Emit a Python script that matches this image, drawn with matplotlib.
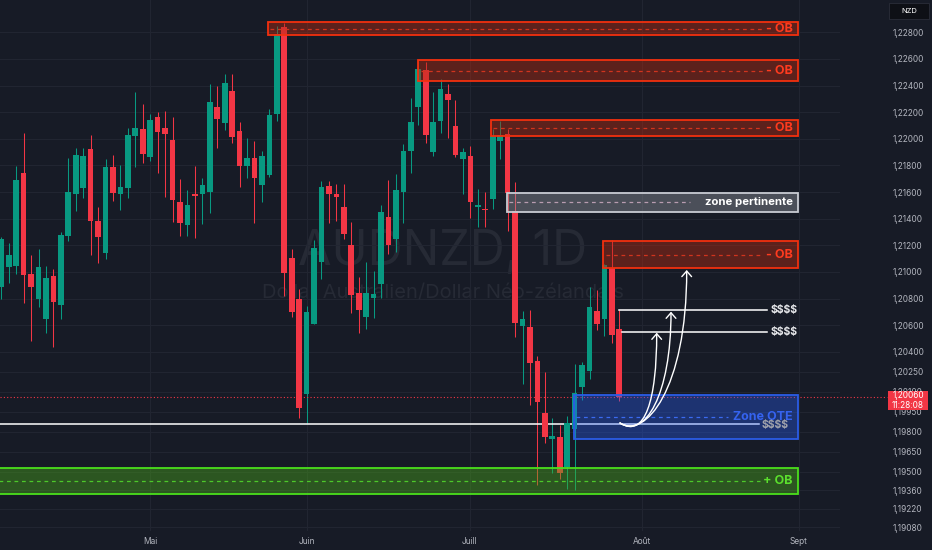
import matplotlib
matplotlib.use("Agg")
import matplotlib.pyplot as plt
import matplotlib.transforms as mtransforms
from matplotlib.patches import Rectangle, FancyArrowPatch
from matplotlib.path import Path

plt.rcParams['font.family'] = ['Inter', 'DejaVu Sans']

# ---------------- data (AUDNZD daily candles) ----------------
opens = [1.20889, 1.21034, 1.21044, 1.21745, 1.20986, 1.20796, 1.20644, 1.20971, 1.20753, 1.21272,
         1.21587, 1.21632, 1.21921, 1.21382, 1.21144, 1.21788, 1.21587, 1.21630, 1.22019, 1.22073,
         1.21863, 1.22166, 1.22079, 1.21993, 1.21527, 1.21350, 1.21587, 1.21587, 1.21602, 1.22237,
         1.22121, 1.22359, 1.22056, 1.21798, 1.21856, 1.21651, 1.21728, 1.22186, 1.22842, 1.21107,
         1.20799, 1.20083, 1.20608, 1.21072, 1.21648, 1.21587, 1.21490, 1.21200, 1.20841, 1.20661,
         1.20806, 1.20909, 1.21415, 1.21249, 1.21598, 1.21910, 1.22241, 1.22519, 1.21903, 1.22131,
         1.22339, 1.22098, 1.21850, 1.21871, 1.21487, 1.21467, 1.21548, 1.21981, 1.22034, 1.21455,
         1.20591, 1.20588, 1.20333, 1.19940, 1.19747, 1.19759, 1.19536, 1.19822, 1.20135, 1.20255,
         1.20706, 1.20648, 1.21027, 1.20571]
highs = [1.21260, 1.21219, 1.21796, 1.22041, 1.21127, 1.21172, 1.21046, 1.21019, 1.21302, 1.21858,
         1.21931, 1.21931, 1.22031, 1.21487, 1.21848, 1.21878, 1.21801, 1.22079, 1.22351, 1.22264,
         1.22186, 1.22201, 1.22209, 1.22166, 1.21696, 1.21615, 1.21796, 1.21705, 1.22409, 1.22399,
         1.22484, 1.22484, 1.22128, 1.22008, 1.21986, 1.21906, 1.22224, 1.22847, 1.22868, 1.21172,
         1.20874, 1.20746, 1.21240, 1.21681, 1.21685, 1.21660, 1.21660, 1.21373, 1.20959, 1.21074,
         1.21009, 1.21500, 1.21690, 1.21733, 1.21963, 1.22309, 1.22587, 1.22577, 1.22354, 1.22447,
         1.22409, 1.22291, 1.21931, 1.21946, 1.21623, 1.21602, 1.22071, 1.22134, 1.22076, 1.21673,
         1.20706, 1.20711, 1.20368, 1.20248, 1.19900, 1.19850, 1.19917, 1.20306, 1.20325, 1.20889,
         1.20864, 1.21059, 1.21240, 1.20714]
lows = [1.20794, 1.20919, 1.20984, 1.20764, 1.20483, 1.20736, 1.20543, 1.20433, 1.20648, 1.21234,
        1.21460, 1.21555, 1.21127, 1.21069, 1.21097, 1.21533, 1.21465, 1.21555, 1.21786, 1.21820,
        1.21835, 1.21745, 1.21565, 1.21375, 1.21267, 1.21272, 1.21257, 1.21362, 1.21445, 1.21931,
        1.22064, 1.21966, 1.21640, 1.21703, 1.21370, 1.21527, 1.21711, 1.22136, 1.20819, 1.20663,
        1.19900, 1.19862, 1.20608, 1.20947, 1.21365, 1.21385, 1.21245, 1.20689, 1.20541, 1.20569,
        1.20656, 1.20802, 1.21132, 1.21152, 1.21365, 1.21745, 1.22104, 1.21971, 1.21873, 1.22046,
        1.22008, 1.21865, 1.21583, 1.21403, 1.21335, 1.21340, 1.21472, 1.21846, 1.21309, 1.20509,
        1.20158, 1.20000, 1.19399, 1.19717, 1.19487, 1.19444, 1.19371, 1.19361, 1.20037, 1.20198,
        1.20563, 1.20518, 1.20463, 1.20032]
closes = [1.21245, 1.21127, 1.21690, 1.20979, 1.20889, 1.21034, 1.20954, 1.20771, 1.21275, 1.21598,
          1.21880, 1.21868, 1.21380, 1.21262, 1.21788, 1.21595, 1.21635, 1.22031, 1.22079, 1.21883,
          1.22139, 1.22051, 1.22038, 1.21542, 1.21365, 1.21500, 1.21572, 1.21651, 1.22274, 1.22146,
          1.22419, 1.22016, 1.21796, 1.21853, 1.21708, 1.21873, 1.22181, 1.22787, 1.20994, 1.20699,
          1.19975, 1.20696, 1.21182, 1.21635, 1.21585, 1.21565, 1.21287, 1.20826, 1.20714, 1.20841,
          1.20836, 1.21448, 1.21204, 1.21615, 1.21908, 1.22128, 1.22524, 1.22031, 1.22126, 1.22372,
          1.22294, 1.21880, 1.21901, 1.21525, 1.21497, 1.21463, 1.22021, 1.22028, 1.21590, 1.20618,
          1.20648, 1.20313, 1.20022, 1.19757, 1.19767, 1.19487, 1.19867, 1.20090, 1.20300, 1.20736,
          1.20611, 1.21052, 1.20524, 1.20060]

price_ticks = [1.228, 1.226, 1.224, 1.222, 1.220, 1.218, 1.216, 1.214, 1.212, 1.210, 1.208,
               1.206, 1.204, 1.2025, 1.201, 1.1995, 1.198, 1.1965, 1.195, 1.1936, 1.1922, 1.1908]
month_labels = ["Mai", "Juin", "Juill", "Août", "Sept"]
month_pos = [20.0, 41.0, 62.9, 86.1, 107.1]

last_price = 1.20060
countdown = "11:28:08"

# zones (x start in candle index, price low, price high)
ob_red = [(35.8, 1.22780, 1.22877), (56.0, 1.22434, 1.22592),
          (65.8, 1.22023, 1.22141), (80.85, 1.21027, 1.21234)]
zone_pert = (67.9, 1.21450, 1.21595)
zone_ote = (76.9, 1.19744, 1.20075)
ob_green = (-1.0, 1.19331, 1.19524)
zone_end = 107.0
liq_levels = [(83.0, 1.20711), (83.3, 1.20548)]
liq_end = 102.8
low_liq = 1.19857
low_liq_end = 101.8

# ---------------- styling ----------------
BG = "#171B26"
GRID = "#222632"
UP = "#089981"
DOWN = "#F23645"
TXT = "#B2B5BE"

fig = plt.figure(figsize=(9.32, 5.5), dpi=100, facecolor=BG)
ax = fig.add_axes([0, 19 / 550, 840 / 932, 531 / 550])
ax.set_facecolor(BG)

n = len(opens)
xs = list(range(n))
x_lo, x_hi = -0.1746, 112.64
y_lo, y_hi = 1.19053, 1.23043
ax.set_xlim(x_lo, x_hi)
ax.set_ylim(y_lo, y_hi)

# pixel helpers for the hand-drawn annotations only
def px_x(px):
    return x_lo + px / 840 * (x_hi - x_lo)

def px_y(py):
    return y_hi - py / 531 * (y_hi - y_lo)

# grid / axes
for s in ax.spines.values():
    s.set_visible(False)
ax.set_xticks(month_pos)
ax.set_xticklabels(month_labels)
ax.yaxis.tick_right()
ax.set_yticks(price_ticks)
ax.set_yticklabels([("%.5f" % p).replace(".", ",") for p in price_ticks])
ax.tick_params(axis='x', length=0, pad=4, labelsize=6, labelcolor=TXT)
ax.tick_params(axis='y', length=0, pad=38, labelsize=6, labelcolor=TXT)
ax.grid(True, color=GRID, lw=0.7)
ax.set_axisbelow(True)

# watermark
ax.text(59.3, 1.21152, "AUDNZD, 1D", fontsize=35, color="#262A35",
        ha='center', va='center', zorder=0.5)
ax.text(59.3, 1.20841, "Dollar Australien/Dollar Néo-zélandais", fontsize=14.5,
        color="#262A35", ha='center', va='center', zorder=0.5)

# candles
cols = [UP if c >= o else DOWN for o, c in zip(opens, closes)]
ax.vlines(xs, lows, highs, colors=cols, lw=0.75, zorder=2)
bottoms = [min(o, c) for o, c in zip(opens, closes)]
heights = [max(abs(c - o), 0.00012) for o, c in zip(opens, closes)]
ax.bar(xs, heights, bottom=bottoms, width=0.76, color=cols, lw=0, zorder=3)

# current price dotted line
ax.plot([x_lo, px_x(887)], [last_price, last_price], color=DOWN, lw=0.8,
        ls=(0, (1, 2)), zorder=2.5, clip_on=False)

# white liquidity line on the left
ax.plot([x_lo, low_liq_end], [low_liq, low_liq], color="white", lw=1.1, zorder=2.6)


def zone(x0, y0, y1, face, alpha, edge, dash, label, lcol, lsize, dash_end):
    ax.add_patch(Rectangle((x0, y0), zone_end - x0, y1 - y0, facecolor=face, alpha=alpha,
                           lw=0, zorder=4))
    ax.add_patch(Rectangle((x0, y0), zone_end - x0, y1 - y0, facecolor='none',
                           edgecolor=edge, lw=1.3, zorder=4.2))
    ym = (y0 + y1) / 2
    ax.plot([x0 + 0.3, dash_end], [ym, ym], color=dash, lw=0.9, ls=(0, (3, 3)), zorder=4.3)
    ax.text(zone_end - 0.7, ym, label, color=lcol, fontsize=lsize, fontweight='bold',
            ha='right', va='center', zorder=5)


for (x0, y0, y1) in ob_red:
    zone(x0, y0, y1, "#B22A10", 0.45, "#F2300E", "#D0341E", "- OB", "#FF3B1F", 9, 102.3)

zone(zone_pert[0], zone_pert[1], zone_pert[2], "#9598A1", 0.42, "#C9CCD3", "#B89CB0",
     "zone pertinente", "white", 8.2, 92.5)
zone(zone_ote[0], zone_ote[1], zone_ote[2], "#2962FF", 0.35, "#2B5CE6", "#3A6AF0",
     "Zone OTE", "#3563F0", 9, 97.6)
zone(ob_green[0], ob_green[1], ob_green[2], "#4CAF1A", 0.40, "#4BE01C", "#4CC82A",
     "+ OB", "#5BE02D", 9, 101.9)

# liquidity levels ($$$$)
for (x0, y) in liq_levels:
    ax.plot([x0, liq_end], [y, y], color="white", lw=1.1, zorder=4.5)
    ax.text(liq_end + 0.5, y, "$$$$", color="#E6E7EA", fontsize=7.5, fontweight='bold',
            ha='left', va='center', zorder=5, parse_math=False)
ax.text(liq_end - 0.7, low_liq - 0.00004, "$$$$", color="#A0A3AC", fontsize=7.5,
        fontweight='bold', ha='left', va='center', zorder=5, parse_math=False)

# curved arrows
tips = [(656.7, 332.7, 400), (671.0, 311.7, 395), (686.7, 270.0, 390)]
for tx, ty, c2 in tips:
    verts = [(px_x(620), px_y(423)), (px_x(645), px_y(439)),
             (px_x(tx), px_y(c2)), (px_x(tx), px_y(ty))]
    path = Path(verts, [Path.MOVETO, Path.CURVE4, Path.CURVE4, Path.CURVE4])
    arr = FancyArrowPatch(path=path, arrowstyle="->,head_length=4,head_width=3.5",
                          color="white", lw=1.0, zorder=6)
    ax.add_patch(arr)

# price tag and currency box (figure coords)
fig.patches.append(Rectangle((887.7 / 932, 1 - 410 / 550), 40.6 / 932, 19 / 550,
                             transform=fig.transFigure, facecolor=DOWN, edgecolor='none',
                             zorder=10))
fig.text(908 / 932, 1 - 396 / 550, ("%.5f" % last_price).replace(".", ","), color="white",
         fontsize=6, ha='center', va='center', zorder=11)
fig.text(908 / 932, 1 - 405 / 550, countdown, color="white", fontsize=6,
         ha='center', va='center', zorder=11)
fig.patches.append(Rectangle((889 / 932, 1 - 19 / 550), 40 / 932, 16 / 550,
                             transform=fig.transFigure, facecolor="#0E1016",
                             edgecolor="#2A2E39", lw=0.6, zorder=10))
fig.text(909 / 932, 1 - 11 / 550, "NZD", color="white", fontsize=5.5,
         ha='center', va='center', zorder=11)

fig.savefig("out.png", dpi=100, facecolor=BG)
